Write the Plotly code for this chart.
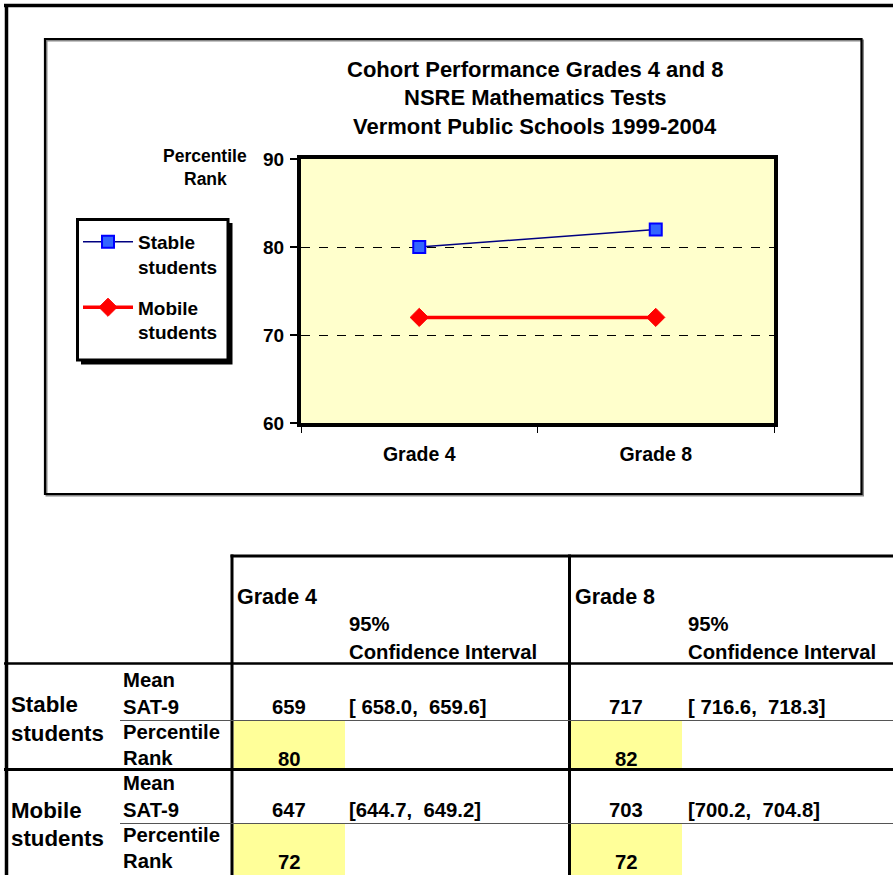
import plotly.graph_objects as go

# ---------------- data ----------------
grades = ["Grade 4", "Grade 8"]
stable_pr = [80, 82]
mobile_pr = [72, 72]

stable_mean = [659, 717]
stable_ci = ["[ 658.0,  659.6]", "[ 716.6,  718.3]"]
mobile_mean = [647, 703]
mobile_ci = ["[644.7,  649.2]", "[700.2,  704.8]"]

title_lines = ["Cohort Performance Grades 4 and 8",
               "NSRE Mathematics Tests",
               "Vermont Public Schools 1999-2004"]

W, H = 893, 875
FONT = "Arial, Liberation Sans, sans-serif"


def X(px):
    return px / W


def Y(py):
    return 1 - py / H


def nb(s):
    return s.replace("  ", " \u00a0")


fig = go.Figure()
fig.add_trace(go.Scatter(
    x=grades, y=stable_pr, mode="lines+markers", name="Stable<br>students",
    line=dict(color="#000080", width=1.5),
    marker=dict(symbol="square", size=12, color="#3366FF",
                line=dict(color="#0000FF", width=2)),
    legendgroup="a"))
fig.add_trace(go.Scatter(
    x=grades, y=mobile_pr, mode="lines+markers", name="Mobile<br>students",
    line=dict(color="#FF0000", width=3.5),
    marker=dict(symbol="diamond", size=14, color="#FF0000",
                line=dict(color="#FF0000", width=1)),
    legendgroup="b"))

shapes = []
ann = []


def rect(x0, y0, x1, y1, fill=None, lc="black", lw=0, layer="above"):
    d = dict(type="rect", xref="paper", yref="paper",
             x0=X(x0), x1=X(x1), y0=Y(y0), y1=Y(y1), layer=layer,
             line=dict(color=lc, width=lw))
    if fill:
        d["fillcolor"] = fill
    shapes.append(d)


def hline(y, x0, x1, w, c="black"):
    shapes.append(dict(type="line", xref="paper", yref="paper",
                       x0=X(x0), x1=X(x1), y0=Y(y), y1=Y(y),
                       line=dict(color=c, width=w)))


def vline(x, y0, y1, w, c="black"):
    shapes.append(dict(type="line", xref="paper", yref="paper",
                       x0=X(x), x1=X(x), y0=Y(y0), y1=Y(y1),
                       line=dict(color=c, width=w)))


# outer frame
hline(5.5, 4, 893, 3.5)
vline(6.5, 4, 875, 3.5)
# chart box (with slight shadow)
rect(46.5, 40.5, 863, 495.5, lc="#888888", lw=2, layer="below")
rect(45, 39, 861.5, 494, lc="black", lw=2.2, layer="below")
# legend box with shadow
rect(81, 223, 232.5, 364.5, fill="black", lw=0)
rect(77.5, 219.5, 228, 360, fill="white", lc="black", lw=3)

# title
for i, t in enumerate(title_lines):
    ann.append(dict(text=f"<b>{t}</b>", xref="paper", yref="paper",
                    x=X(535), y=Y(70 + 28 * i), xanchor="center", yanchor="middle",
                    showarrow=False, font=dict(family=FONT, size=22, color="black")))
# axis title
for t, yy in [("Percentile", 156), ("Rank", 179)]:
    ann.append(dict(text=f"<b>{t}</b>", xref="paper", yref="paper",
                    x=X(205), y=Y(yy), xanchor="center", yanchor="middle",
                    showarrow=False, font=dict(family=FONT, size=17.5, color="black")))

# ---------------- table ----------------
YEL = "#FFFF99"
for x0, x1 in [(233.5, 345), (571, 682)]:
    for y0, y1 in [(721, 768), (824, 875)]:
        rect(x0, y0, x1, y1, fill=YEL, lw=0, layer="below")

hline(556, 230.5, 893, 3)
vline(232, 554.5, 875, 3)
vline(569.5, 554.5, 875, 3)
hline(663.5, 4, 893, 2.5)
hline(720.5, 120, 893, 1, "#555555")
hline(769.5, 4, 893, 3)
hline(823.5, 120, 893, 1, "#555555")

TF = 20.3


def txt(t, x, y, anchor="left", size=TF):
    ann.append(dict(text=f"<b>{nb(t)}</b>", xref="paper", yref="paper",
                    x=X(x), y=Y(y), xanchor=anchor, yanchor="middle",
                    showarrow=False, font=dict(family=FONT, size=size, color="black")))


# header
for gi, (gx, cx) in enumerate([(235, 347), (573, 686)]):
    txt(grades[gi], gx, 597, size=21.5)
    txt("95%", cx, 624)
    txt("Confidence Interval", cx, 652)

# row labels
for lab, y1, y2 in [("Stable", 704, 733), ("Mobile", 810, 838)]:
    txt(lab, 9, y1, size=22.3)
    txt("students", 9, y2, size=22.3)
for base in (0, 103):
    txt("Mean", 121, 680 + base)
    txt("SAT-9", 121, 707 + base)
    txt("Percentile", 121, 732 + base)
    txt("Rank", 121, 758 + base)

num_x = [289, 626]
ci_x = [347, 686]
for gi in range(2):
    txt(str(stable_mean[gi]), num_x[gi], 707, "center")
    txt(stable_ci[gi], ci_x[gi], 707)
    txt(str(stable_pr[gi]), num_x[gi], 759, "center")
    txt(str(mobile_mean[gi]), num_x[gi], 810, "center")
    txt(mobile_ci[gi], ci_x[gi], 810)
    txt(str(mobile_pr[gi]), num_x[gi], 862, "center")

fig.update_layout(
    width=W, height=H, autosize=False,
    margin=dict(l=0, r=0, t=0, b=0, pad=0, autoexpand=False),
    paper_bgcolor="white", plot_bgcolor="#FFFFCC",
    font=dict(family=FONT, color="black"),
    shapes=shapes, annotations=ann,
    showlegend=True,
    legend=dict(x=X(78), y=Y(223), xanchor="left", yanchor="top",
                bgcolor="rgba(0,0,0,0)", borderwidth=0,
                font=dict(family=FONT, size=19, color="black", weight="bold"),
                itemwidth=50, valign="top", tracegroupgap=13,
                traceorder="grouped"),
    xaxis=dict(domain=[X(301), X(774)], type="category", range=[-0.5, 1.5],
               automargin=False,
               showline=True, linewidth=4, linecolor="black", mirror=True,
               ticks="outside", ticklen=6, tickwidth=1, tickcolor="black",
               tickson="boundaries", showgrid=False, zeroline=False,
               ticklabelstandoff=11,
               tickfont=dict(family=FONT, size=19.5, color="black", weight="bold")),
    yaxis=dict(domain=[Y(423), Y(159)], range=[60, 90], dtick=10,
               automargin=False,
               showline=True, linewidth=4, linecolor="black", mirror=True,
               ticks="outside", ticklen=7, tickwidth=2, tickcolor="black",
               showgrid=True, gridcolor="black", gridwidth=1, griddash="dash",
               zeroline=False, ticklabelstandoff=2,
               tickfont=dict(family=FONT, size=19, color="black", weight="bold")),
)

fig.write_html("out.html", config={"displayModeBar": False},
               post_script="document.body.style.margin='0';document.body.style.overflow='hidden';")
